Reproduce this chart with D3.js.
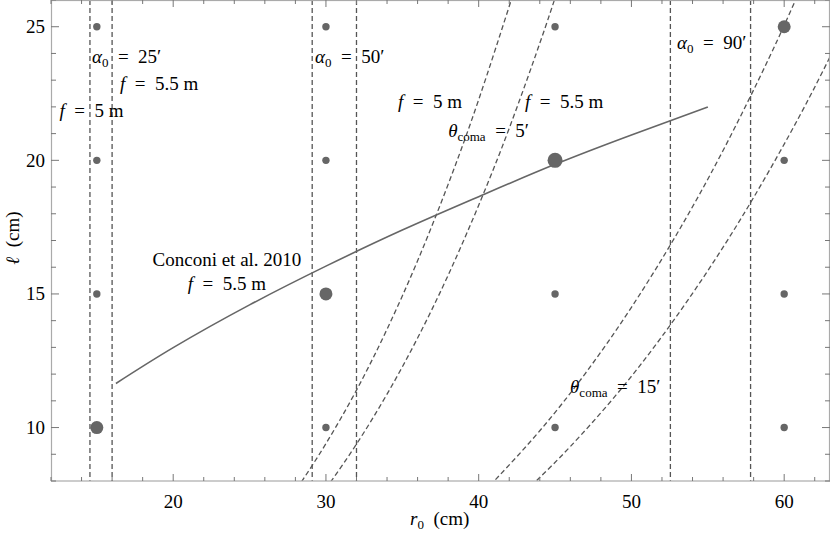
<!DOCTYPE html>
<html>
<head>
<meta charset="utf-8">
<script src="https://cdn.jsdelivr.net/npm/d3@7"></script>
<style>
  body { margin: 0; background: #fff; }
  text { font-family: "Liberation Serif", "Times New Roman", serif; fill: #000; }
</style>
</head>
<body>
<div class="content-container"></div>
<script>
// grid of sampled configurations (r0 in cm, l in cm)
const gridR0 = [15, 30, 45, 60];
const gridL = [10, 15, 20, 25];
// highlighted configurations (larger dots)
const bigR0 = [15, 30, 45, 60];
const bigL = [10, 15, 20, 25];

// vertical limits from alpha_0 (25', 50', 90' for f = 5 m and 5.5 m)
const alphaR0 = [14.55, 16.0, 29.1, 32.0, 52.55, 57.8];

// coma curves
const coma5f5R0 = [28.4, 30, 32, 34, 36, 38, 40, 42.3];
const coma5f5L = [7.97, 9.40, 11.40, 13.68, 16.24, 19.10, 22.27, 26.3];
const coma5f55R0 = [30.3, 32, 34, 36, 38, 40, 42, 44, 45.1];
const coma5f55L = [7.96, 9.38, 11.25, 13.35, 15.70, 18.32, 21.20, 24.38, 26.25];
const coma15f5R0 = [41.1, 44, 47, 50, 53, 56, 59, 61];
const coma15f5L = [8.05, 9.88, 12.04, 14.50, 17.27, 20.37, 23.82, 26.33];
const coma15f55R0 = [43.8, 46, 49, 52, 55, 58, 61, 63.2];
const coma15f55L = [8.02, 9.29, 11.22, 13.41, 15.87, 18.61, 21.65, 24.1];

// Conconi et al. 2010, f = 5.5 m
const conconiR0 = [16.25, 20, 25, 30, 35, 40, 45, 50, 55];
const conconiL = [11.65, 12.99, 14.59, 16.04, 17.39, 18.64, 19.85, 20.95, 22.0];

const xTicks = [20, 30, 40, 50, 60];
const xMinor = d3.range(12, 63.01, 2);
const yTicks = [10, 15, 20, 25];
const yMinor = d3.range(8, 26.01, 1);

const width = 830;
const height = 533;
const plotLeft = 51, plotRight = 830, plotTop = 0, plotBottom = 481;
const markColor = "#666";
const dashColor = "#555";

const x = d3.scaleLinear().domain([12, 63]).range([plotLeft, plotRight]);
const y = d3.scaleLinear().domain([8, 26]).range([plotBottom, plotTop]);

const svg = d3.select(".content-container").append("svg")
  .attr("width", width)
  .attr("height", height)
  .style("display", "block");

svg.append("clipPath").attr("id", "plot-clip")
  .append("rect")
  .attr("x", plotLeft).attr("y", plotTop)
  .attr("width", plotRight - plotLeft).attr("height", plotBottom - plotTop);

const plot = svg.append("g").attr("clip-path", "url(#plot-clip)");

// dashed alpha_0 lines
plot.selectAll("line.alpha")
  .data(alphaR0)
  .enter()
  .append("line")
  .attr("class", "alpha")
  .attr("x1", d => x(d)).attr("x2", d => x(d))
  .attr("y1", plotTop).attr("y2", plotBottom)
  .attr("stroke", dashColor)
  .attr("stroke-width", 1.3)
  .attr("stroke-dasharray", "5,3");

// dashed coma curves
const comaCurves = [
  [coma5f5R0, coma5f5L],
  [coma5f55R0, coma5f55L],
  [coma15f5R0, coma15f5L],
  [coma15f55R0, coma15f55L]
];
const line = d3.line().x(d => x(d[0])).y(d => y(d[1])).curve(d3.curveNatural);

comaCurves.forEach(function (c) {
  const pts = c[0].map((r, i) => [r, c[1][i]]);
  plot.append("path")
    .attr("d", line(pts))
    .attr("fill", "none")
    .attr("stroke", dashColor)
    .attr("stroke-width", 1.3)
    .attr("stroke-dasharray", "5,3");
});

// Conconi line
plot.append("path")
  .attr("d", line(conconiR0.map((r, i) => [r, conconiL[i]])))
  .attr("fill", "none")
  .attr("stroke", markColor)
  .attr("stroke-width", 1.6);

// dots
const dots = [];
gridR0.forEach(r => gridL.forEach(l => {
  const big = bigR0.some((br, i) => br === r && bigL[i] === l);
  dots.push({ r0: r, l: l, big: big });
}));

plot.selectAll("circle")
  .data(dots)
  .enter()
  .append("circle")
  .attr("cx", d => x(d.r0))
  .attr("cy", d => y(d.l))
  .attr("r", d => d.big ? (d.r0 === 45 ? 7.5 : 6.5) : 3.7)
  .attr("fill", markColor);

// frame and ticks
svg.append("rect")
  .attr("x", plotLeft + 0.5).attr("y", plotTop + 0.5)
  .attr("width", plotRight - plotLeft - 1).attr("height", plotBottom - plotTop - 0.5)
  .attr("fill", "none")
  .attr("stroke", "#aaa")
  .attr("stroke-width", 1.2);

const ticks = svg.append("g").attr("stroke", "#777").attr("stroke-width", 1);
xMinor.forEach(function (v) {
  const major = xTicks.includes(v);
  const len = major ? 7 : 4;
  ticks.append("line").attr("x1", x(v)).attr("x2", x(v)).attr("y1", plotBottom).attr("y2", plotBottom - len);
  ticks.append("line").attr("x1", x(v)).attr("x2", x(v)).attr("y1", plotTop).attr("y2", plotTop + len);
});
yMinor.forEach(function (v) {
  const major = yTicks.includes(v);
  const len = major ? 8 : 5;
  ticks.append("line").attr("x1", plotLeft).attr("x2", plotLeft + len).attr("y1", y(v)).attr("y2", y(v));
  ticks.append("line").attr("x1", plotRight).attr("x2", plotRight - len).attr("y1", y(v)).attr("y2", y(v));
});

svg.selectAll("text.xtick")
  .data(xTicks)
  .enter()
  .append("text")
  .attr("class", "xtick")
  .attr("x", d => x(d))
  .attr("y", 508)
  .attr("text-anchor", "middle")
  .style("font-size", "19px")
  .text(d => d);

svg.selectAll("text.ytick")
  .data(yTicks)
  .enter()
  .append("text")
  .attr("class", "ytick")
  .attr("x", 45)
  .attr("y", d => y(d) + 6.5)
  .attr("text-anchor", "end")
  .style("font-size", "19px")
  .text(d => d);

// rich text helper: parts = [[text, "i" | "sub" | "up" | ""], ...]
function rich(px, py, parts, anchor) {
  const t = svg.append("text")
    .attr("x", px).attr("y", py)
    .attr("text-anchor", anchor || "start")
    .style("font-size", "19px")
    .style("white-space", "pre");
  parts.forEach(function (p) {
    const s = t.append("tspan").text(p[0]);
    if (p[1] === "i") s.style("font-style", "italic");
    if (p[1] === "sub") s.style("font-size", "13px").attr("dy", 4);
    if (p[1] === "up") s.attr("dy", -4);
  });
  return t;
}

const eq = "\u2002=\u2002";
rich(x(14.68), y(23.64), [["α", "i"], ["0", "sub"], [eq + "25′", "up"]]);
rich(x(16.52), y(22.63), [["f", "i"], [eq + "5.5 m", ""]]);
rich(x(12.55), y(21.62), [["f", "i"], [eq + "5 m", ""]]);
rich(x(29.28), y(23.64), [["α", "i"], ["0", "sub"], [eq + "50′", "up"]]);
rich(x(34.72), y(21.96), [["f", "i"], [eq + "5 m", ""]]);
rich(x(43.03), y(21.96), [["f", "i"], [eq + "5.5 m", ""]]);
rich(x(38.0), y(20.87), [["θ", "i"], ["coma", "sub"], [eq + "5′", "up"]]);
rich(x(52.98), y(24.17), [["α", "i"], ["0", "sub"], [eq + "90′", "up"]]);
rich(x(23.52), y(16.05), [["Conconi et al. 2010", ""]], "middle");
rich(x(23.52), y(15.15), [["f", "i"], [eq + "5.5 m", ""]], "middle");
rich(x(45.98), y(11.29), [["θ", "i"], ["coma", "sub"], [eq + "15′", "up"]]);

// axis titles
rich(410, 525, [["r", "i"], ["0", "sub"], ["\u2002(cm)", "up"]]);
svg.append("text")
  .attr("transform", "translate(19,238) rotate(-90)")
  .attr("text-anchor", "middle")
  .style("font-size", "19px")
  .style("white-space", "pre")
  .html('<tspan font-style="italic">ℓ</tspan>\u2002(cm)');
</script>
</body>
</html>
